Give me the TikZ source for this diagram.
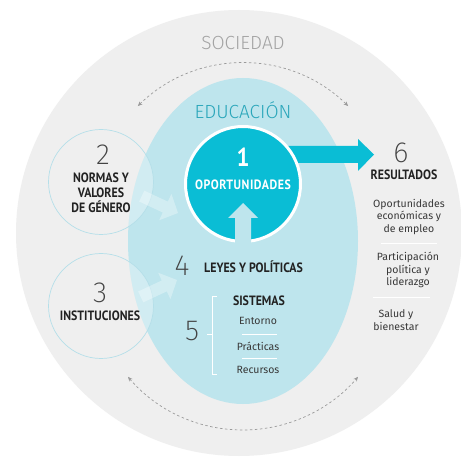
\documentclass[tikz,border=0pt]{standalone}
\usepackage{fontspec}
\setmainfont{Fira Sans}
\newfontfamily\lightf{Fira Sans Light}
\newfontfamily\thinf{Fira Sans ExtraLight}
\newfontfamily\headf{PT Sans}[FakeStretch=0.88]
\newfontfamily\wideheadf{PT Sans}[FakeStretch=0.88, LetterSpace=4]
\usetikzlibrary{arrows.meta}

\definecolor{societygrey}{HTML}{EFEFEF}
\definecolor{edublue}{HTML}{BEE5ED}
\definecolor{oppteal}{HTML}{0ABDD5}
\definecolor{ringblue}{HTML}{B5DFE9}
\definecolor{labelgrey}{HTML}{A3A3A3}
\definecolor{edutext}{HTML}{2AA6BA}
\definecolor{dashgrey}{HTML}{9A9A9A}
\definecolor{ink}{HTML}{222222}

\tikzset{
  heading/.style={font=\headf\bfseries\fontsize{13.5}{15}\selectfont, text=ink, align=center, inner sep=0pt},
  bignum/.style={font=\thinf\fontsize{29}{29}\selectfont, text=ink!85, inner sep=0pt},
  body/.style={font=\fontsize{10.5}{12.5}\selectfont, text=ink!90, align=center, inner sep=0pt},
  factor/.style={circle, draw=ringblue, line width=0.7pt, minimum size=105pt, inner sep=0pt},
  softarrow/.style={fill=white, fill opacity=0.32},
  cycle/.style={dashgrey, dashed, dash pattern=on 2.5pt off 2.5pt, line width=0.7pt, {Stealth[length=4.5pt,width=4pt]}-{Stealth[length=4.5pt,width=4pt]}},
  divider/.style={white, line width=0.9pt}
}

\begin{document}
\begin{tikzpicture}[x=1pt, y=-1pt]
  \useasboundingbox (0,0) rectangle (461,457);
  \fill[white] (0,0) rectangle (461,457);

  % society ring and education field
  \fill[societygrey] (239,233) circle (223);
  \fill[edublue] (243,241) ellipse (115 and 163);

  \node[font=\lightf\fontsize{19}{19}\selectfont, text=labelgrey] (society) at (243,43) {SOCIEDAD};
  \node[font=\lightf\fontsize{19}{19}\selectfont, text=edutext] (education) at (243,110) {EDUCACIÓN};

  % dashed cycles
  \draw[cycle] (243,213) ++(-134.5:150) arc[start angle=-134.5, end angle=-45.5, radius=150];
  \draw[cycle] (243,279) ++(139.6:151) arc[start angle=139.6, end angle=40.4, radius=151];

  % factor circles 2 and 3: lighter only where they lie over the education field
  \begin{scope}
    \clip (243,241) ellipse (115 and 163);
    \fill[white, fill opacity=0.3] (101,182) circle (52.5);
    \fill[white, fill opacity=0.3] (101,306) circle (52.5);
  \end{scope}
  \node[factor] (norms) at (101,182) {};
  \node[factor] (inst) at (101,306) {};

  \fill[softarrow, shift={(178,213)}, rotate=-25]
    (-40,-6) -- (-14,-6) -- (-14,-14.5) -- (0,0) -- (-14,14.5) -- (-14,6) -- (-40,6) -- cycle;
  \fill[softarrow, shift={(177,280)}, rotate=25]
    (-40,-6) -- (-14,-6) -- (-14,-14.5) -- (0,0) -- (-14,14.5) -- (-14,6) -- (-40,6) -- cycle;

  \node[bignum] (n2) at (103,155) {2};
  \node[heading] (normstxt) at (101,193) {NORMAS Y\\VALORES\\DE GÉNERO};
  \node[bignum] (n3) at (100,293) {3};
  \node[heading] (insttxt) at (100,316) {INSTITUCIONES};

  % outcome arrow, then the opportunity circle on top of its tail
  \fill[oppteal] (270,146) -- (358,146) -- (358,139) -- (374,154.5) -- (358,171) -- (358,163) -- (270,163) -- cycle;
  \node[circle, fill=oppteal, draw=white, line width=3pt, minimum size=115pt, inner sep=0pt] (opp) at (243,184) {};
  \node[font=\headf\bfseries\fontsize{26}{26}\selectfont, text=white, inner sep=0pt] (n1) at (243,157) {1};
  \node[font=\wideheadf\bfseries\fontsize{13.5}{15}\selectfont, text=white, inner sep=0pt] (opptxt) at (243,185) {OPORTUNIDADES};

  % upward arrow from laws into opportunities
  \fill[edublue] (235,243) -- (235,218) -- (228,218) -- (243,203) -- (258,218) -- (251,218) -- (251,243) -- cycle;

  % laws and systems
  \node[bignum] (n4) at (182,266) {4};
  \node[heading, anchor=west] (laws) at (204,267) {LEYES Y POLÍTICAS};

  \node[bignum] (n5) at (192,331) {5};
  \draw[divider] (207,334) -- (212,334);
  \draw[divider] (217,296) -- (212,296) -- (212,374) -- (217,374);
  \node[heading] (systems) at (259,301) {SISTEMAS};
  \node[body] (env) at (258,321) {Entorno};
  \draw[divider] (242,334) -- (277,334);
  \node[body] (prac) at (258,346) {Prácticas};
  \draw[divider] (242,358) -- (277,358);
  \node[body] (res) at (258,370) {Recursos};

  % outcomes
  \node[bignum] (n6) at (401,153) {6};
  \node[heading] (results) at (404,175) {RESULTADOS};
  \node[body] (econ) at (409,217) {Oportunidades\\económicas y\\de empleo};
  \draw[divider] (381,243) -- (437,243);
  \node[body] (pol) at (408,270) {Participación\\política y\\liderazgo};
  \draw[divider] (373,297) -- (430,297);
  \node[body] (health) at (396,320) {Salud y\\bienestar};
\end{tikzpicture}
\end{document}
